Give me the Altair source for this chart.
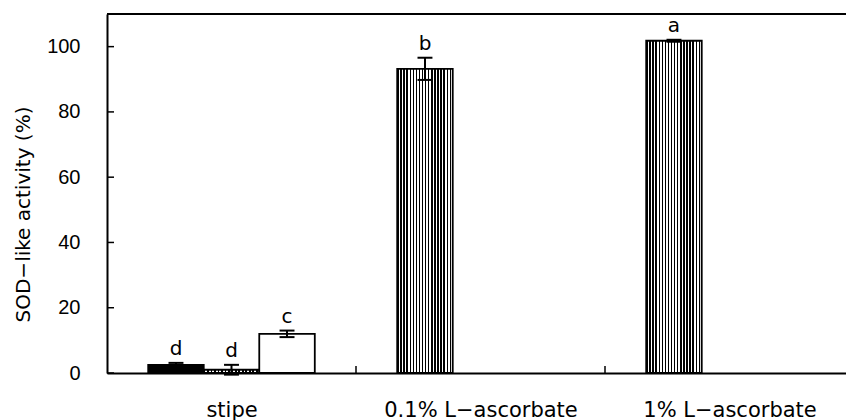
import altair as alt
import pandas as pd

# Sample groups and the bars drawn within each group
groups = ["stipe", "0.1% L−ascorbate", "1% L−ascorbate"]
bar_group = [0, 0, 0, 1, 2]
bar_slot = [-1, 0, 1, -1, -1]
activity = [2.5, 1.0, 12.0, 93.2, 101.8]
sd = [0.6, 1.5, 1.0, 3.4, 0.3]
letters = ["d", "d", "c", "b", "a"]
fill_style = ["solid", "hatch", "open", "stripe", "stripe"]
y_ticks = [0, 20, 40, 60, 80, 100]

BAR_W = 0.223   # bar width in group units
CAP_W = 0.03    # half width of the error-bar caps
W, H = 739, 359

df = pd.DataFrame({
    "group": bar_group,
    "slot": bar_slot,
    "activity": activity,
    "sd": sd,
    "letter": letters,
    "style": fill_style,
})
df["center"] = df["group"] + 0.5 + df["slot"] * BAR_W
df["left"] = df["center"] - BAR_W / 2
df["right"] = df["center"] + BAR_W / 2
df["lo"] = df["activity"] - df["sd"]
df["hi"] = df["activity"] + df["sd"]
df["cap_l"] = df["center"] - CAP_W
df["cap_r"] = df["center"] + CAP_W


def stripes(n, dark):
    stops = []
    for i in range(n):
        a, b, c = i / n, (i + dark) / n, (i + 1) / n
        stops += [
            {"offset": a, "color": "black"},
            {"offset": b, "color": "black"},
            {"offset": b, "color": "white"},
            {"offset": c, "color": "white"},
        ]
    return {"gradient": "linear", "x1": 0, "y1": 0, "x2": 1, "y2": 0, "stops": stops}


label_expr = " : ".join(
    f"datum.value < {i + 1} ? '{g}'" for i, g in enumerate(groups[:-1])
) + f" : '{groups[-1]}'"

x_scale = alt.Scale(domain=[0, W / 249], nice=False, zero=False)
y_scale = alt.Scale(domain=[0, 110], nice=False, zero=True)

x_axis = alt.Axis(
    values=[i + 0.5 for i in range(len(groups))],
    labelExpr=label_expr,
    ticks=False, tickSize=0, grid=False, title=None,
    domainColor="black", domainWidth=2,
    labelFont="DejaVu Sans", labelFontSize=21, labelColor="black",
    labelPadding=26, labelLimit=0, labelFlush=False,
)
y_axis = alt.Axis(
    values=y_ticks,
    ticks=False, tickSize=0, grid=False,
    domainColor="black", domainWidth=2,
    labelFont="Liberation Sans Narrow, Liberation Sans", labelFontSize=20,
    labelColor="black", labelPadding=27,
    title="SOD−like activity (%)",
    titleFont="DejaVu Sans", titleFontSize=20, titleFontWeight="normal",
    titleColor="black", titleAngle=270, titleX=-84, titleY=200,
    titleAlign="center", titleBaseline="middle",
)

base = alt.Chart(df)
x_left = alt.X("left:Q", scale=x_scale, axis=x_axis)
y_val = alt.Y("activity:Q", scale=y_scale, axis=y_axis)


def bar_layer(style, fill):
    return base.transform_filter(alt.datum.style == style).mark_bar(
        fill=fill, stroke="black", strokeWidth=1.8
    ).encode(x=x_left, x2="right:Q", y=y_val, y2=alt.datum(0))


bars = [
    bar_layer("solid", "black"),
    bar_layer("hatch", stripes(16, 0.5)),
    bar_layer("open", "white"),
    bar_layer("stripe", stripes(18, 0.45)),
]

err_line = base.mark_rule(color="black", strokeWidth=2).encode(
    x=alt.X("center:Q", scale=x_scale),
    y=alt.Y("lo:Q", scale=y_scale),
    y2="hi:Q",
)
cap_hi = base.mark_rule(color="black", strokeWidth=2).encode(
    x=alt.X("cap_l:Q", scale=x_scale), x2="cap_r:Q",
    y=alt.Y("hi:Q", scale=y_scale),
)
cap_lo = base.mark_rule(color="black", strokeWidth=2).encode(
    x=alt.X("cap_l:Q", scale=x_scale), x2="cap_r:Q",
    y=alt.Y("lo:Q", scale=y_scale),
)
letter_text = base.mark_text(
    baseline="alphabetic", dy=-8, fontSize=20, font="DejaVu Sans", color="black"
).encode(
    x=alt.X("center:Q", scale=x_scale),
    y=alt.Y("hi:Q", scale=y_scale),
    text="letter:N",
)

# inward tick marks on both axes
y_tick_marks = alt.Chart(pd.DataFrame({"v": y_ticks})).mark_rule(
    color="black", strokeWidth=1.5
).encode(y=alt.Y("v:Q", scale=y_scale), x=alt.value(0), x2=alt.value(7))

x_tick_marks = alt.Chart(pd.DataFrame({"b": list(range(1, len(groups)))})).mark_rule(
    color="black", strokeWidth=1.5
).encode(x=alt.X("b:Q", scale=x_scale), y=alt.value(H), y2=alt.value(H - 7))

top_line = alt.Chart(pd.DataFrame({"v": [0]})).mark_rule(
    color="black", strokeWidth=2
).encode(x=alt.value(0), x2=alt.value(W), y=alt.value(0))

chart = alt.layer(
    *bars, err_line, cap_hi, cap_lo, letter_text, y_tick_marks, x_tick_marks, top_line
).properties(
    width=W, height=H,
    autosize=alt.AutoSizeParams(type="none"),
    padding={"left": 107, "top": 14, "right": 0, "bottom": 47},
).configure_view(stroke=None).configure(background="white")

chart.save("out.html", embed_options={"renderer": "svg", "actions": False})
